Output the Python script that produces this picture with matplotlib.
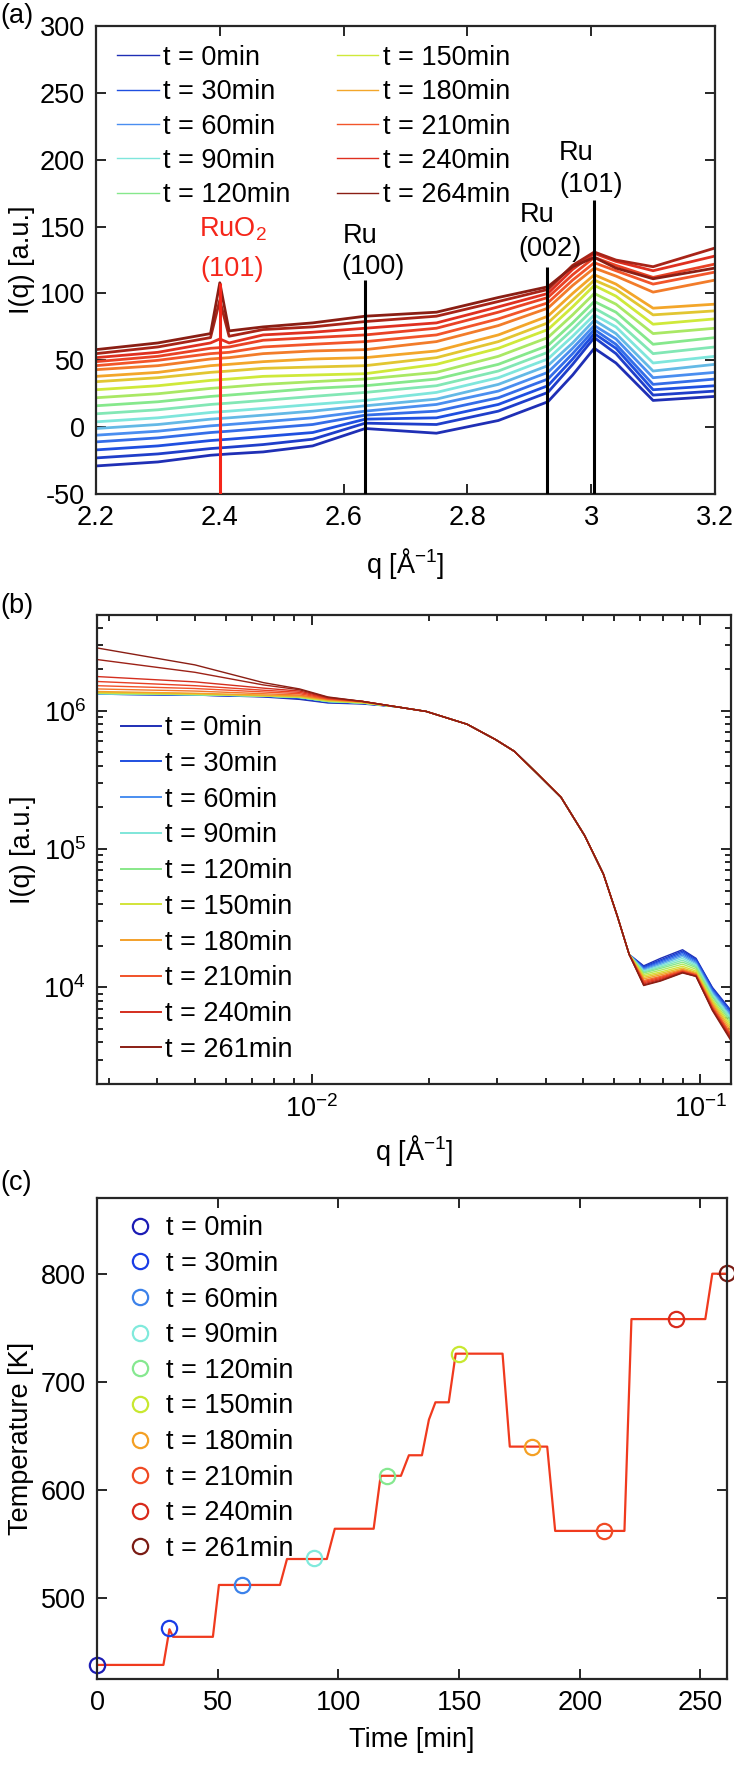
import matplotlib
matplotlib.use('Agg')
import matplotlib.pyplot as plt
from matplotlib.colors import LinearSegmentedColormap
from matplotlib.ticker import LogLocator, NullFormatter, FixedLocator

plt.rcParams['font.family'] = ['Liberation Sans', 'DejaVu Sans']
plt.rcParams['mathtext.fontset'] = 'custom'
plt.rcParams['mathtext.rm'] = 'Liberation Sans'
plt.rcParams['mathtext.it'] = 'Liberation Sans:italic'
plt.rcParams['axes.unicode_minus'] = False
plt.rcParams['font.size'] = 19.5

# ---- (a) WAXS at a few q nodes ----
q_a = [2.20, 2.30, 2.385, 2.40, 2.415, 2.47, 2.55, 2.635, 2.75, 2.85, 2.93, 2.97, 3.005, 3.04, 3.10, 3.20]
times_a = [0, 15, 30, 45, 60, 75, 90, 105, 120, 135, 150, 165, 180, 195, 210, 225, 240, 255, 264]
I_a_000 = [-29, -26, -21, -20.5, -20, -18.5, -14, -1, -4.5, 5, 19, 39, 59, 48, 20, 23]
I_a_015 = [-23, -20, -16, -15.5, -15, -13, -9, 3, 2, 12, 26, 47, 67, 55, 24, 27]
I_a_030 = [-17, -14, -10, -9.5, -9, -7, -4, 6, 7, 17, 31, 51, 70, 59, 28, 31]
I_a_045 = [-11, -8, -4, -3.5, -3, -1, 2, 9, 12, 22, 36, 55, 73, 62, 32, 36]
I_a_060 = [-6, -3, 1, 1.5, 2, 4, 7, 12, 17, 27, 41, 59, 76, 66, 37, 41]
I_a_075 = [-1, 2, 6, 6.5, 7, 9, 12, 16, 21, 32, 46, 63, 80, 70, 42, 47]
I_a_090 = [4, 7, 11, 11.5, 12, 14, 17, 20, 26, 37, 51, 68, 84, 75, 48, 53]
I_a_105 = [10, 13, 17, 17.5, 18, 20, 23, 26, 31, 42, 56, 73, 89, 80, 55, 60]
I_a_120 = [16, 19, 23, 23.5, 24, 26, 29, 31, 36, 47, 61, 78, 94, 86, 62, 67]
I_a_135 = [22, 25, 29, 29.5, 30, 32, 34, 36, 41, 53, 67, 84, 100, 92, 70, 74]
I_a_150 = [28, 31, 35, 35.5, 36, 38, 39, 40, 47, 59, 73, 90, 106, 98, 77, 81]
I_a_165 = [34, 37, 41, 41.5, 42, 44, 45, 46, 52, 64, 78, 95, 110, 103, 84, 87]
I_a_180 = [38, 41, 46, 46.5, 47, 49, 51, 52, 57, 69, 83, 100, 114, 107, 89, 92]
I_a_195 = [43, 46, 51, 51.5, 52, 55, 57, 58, 64, 76, 89, 106, 119, 113, 101, 110]
I_a_210 = [46, 50, 55, 55.5, 56, 60, 62, 64, 69, 81, 93, 110, 123, 117, 107, 116]
I_a_225 = [49, 53, 59, 59.5, 60, 65, 67, 69, 74, 86, 97, 114, 127, 121, 112, 122]
I_a_240 = [52, 56, 63, 66, 63, 69, 71, 74, 78, 90, 100, 118, 130, 124, 117, 128]
I_a_255 = [55, 60, 67, 95, 68, 73, 75, 79, 83, 94, 103, 121, 131, 125, 120, 134]
I_a_264 = [58, 63, 70, 108, 72, 75, 78, 83, 86, 97, 105, 120, 127, 119, 111, 119]
curves_a = [I_a_000, I_a_015, I_a_030, I_a_045, I_a_060, I_a_075, I_a_090, I_a_105, I_a_120, I_a_135,
            I_a_150, I_a_165, I_a_180, I_a_195, I_a_210, I_a_225, I_a_240, I_a_255, I_a_264]
legend_a = [0, 30, 60, 90, 120, 150, 180, 210, 240, 264]

# reflection markers
peak_q = [2.40, 2.635, 2.928, 3.005]
peak_top = [108, 110, 120, 170]
peak_color = ['#f5261a', 'black', 'black', 'black']

# ---- (b) SAXS ----
q_b_low = [0.0028, 0.005, 0.0075, 0.0093, 0.011, 0.0135]
q_b_mid = [0.0165, 0.0197, 0.0251, 0.0297, 0.0332, 0.0381, 0.0438, 0.0504, 0.0563, 0.0612, 0.0656]
q_b_high = [0.0715, 0.079, 0.090, 0.0975, 0.1074, 0.12]
I_b_mid = [1.07e6, 9.9e5, 8.0e5, 6.2e5, 5.1e5, 3.5e5, 2.37e5, 1.25e5, 6.6e4, 3.25e4, 1.73e4]
times_b = [0, 15, 30, 45, 60, 75, 90, 105, 120, 135, 150, 165, 180, 195, 210, 225, 240, 255, 261]
# low q part in 1e6
low_b = [[1.32, 1.30, 1.26, 1.21, 1.14, 1.12],
         [1.32, 1.30, 1.27, 1.23, 1.15, 1.13],
         [1.32, 1.30, 1.27, 1.24, 1.16, 1.13],
         [1.33, 1.31, 1.28, 1.25, 1.17, 1.14],
         [1.33, 1.31, 1.28, 1.25, 1.17, 1.14],
         [1.33, 1.31, 1.28, 1.25, 1.17, 1.14],
         [1.33, 1.31, 1.28, 1.25, 1.17, 1.14],
         [1.34, 1.31, 1.28, 1.25, 1.17, 1.14],
         [1.34, 1.31, 1.28, 1.25, 1.17, 1.14],
         [1.34, 1.32, 1.28, 1.26, 1.18, 1.14],
         [1.35, 1.32, 1.29, 1.26, 1.18, 1.15],
         [1.36, 1.33, 1.29, 1.27, 1.19, 1.15],
         [1.38, 1.34, 1.30, 1.28, 1.20, 1.16],
         [1.44, 1.39, 1.33, 1.30, 1.21, 1.16],
         [1.52, 1.45, 1.37, 1.33, 1.22, 1.17],
         [1.63, 1.52, 1.41, 1.36, 1.23, 1.17],
         [1.77, 1.62, 1.46, 1.39, 1.24, 1.17],
         [2.35, 1.90, 1.54, 1.42, 1.25, 1.17],
         [2.85, 2.15, 1.60, 1.44, 1.26, 1.17]]
# high q part in 1e4
high_b = [[1.43, 1.62, 1.87, 1.62, 1.00, 0.68],
          [1.41, 1.58, 1.83, 1.60, 0.99, 0.67],
          [1.39, 1.55, 1.79, 1.57, 0.97, 0.66],
          [1.37, 1.52, 1.75, 1.54, 0.95, 0.64],
          [1.35, 1.49, 1.71, 1.51, 0.93, 0.63],
          [1.33, 1.46, 1.67, 1.48, 0.91, 0.61],
          [1.31, 1.43, 1.62, 1.45, 0.89, 0.60],
          [1.29, 1.40, 1.57, 1.42, 0.87, 0.58],
          [1.27, 1.37, 1.52, 1.39, 0.85, 0.56],
          [1.24, 1.33, 1.47, 1.35, 0.82, 0.54],
          [1.21, 1.29, 1.42, 1.31, 0.80, 0.52],
          [1.18, 1.26, 1.38, 1.28, 0.78, 0.50],
          [1.15, 1.23, 1.35, 1.26, 0.76, 0.48],
          [1.12, 1.20, 1.33, 1.24, 0.74, 0.46],
          [1.10, 1.18, 1.31, 1.23, 0.72, 0.45],
          [1.08, 1.16, 1.30, 1.22, 0.71, 0.44],
          [1.06, 1.14, 1.29, 1.21, 0.70, 0.43],
          [1.04, 1.12, 1.28, 1.20, 0.69, 0.42],
          [1.03, 1.11, 1.27, 1.20, 0.68, 0.41]]
legend_b = [0, 30, 60, 90, 120, 150, 180, 210, 240, 261]

# ---- (c) temperature programme ----
time_c = [0, 27.5, 30, 31.5, 48, 50.5, 75.8, 78.7, 95.2, 98.5, 114.6, 117.5, 125.9, 129.2, 134.6,
          137.5, 140.2, 145.7, 148.6, 168, 171, 186.5, 189.8, 218.5, 221.4, 252, 254.9, 261]
temp_c = [438, 438, 471, 464, 464, 512, 512, 536, 536, 564, 564, 613, 613, 632, 632,
          665, 681, 681, 726, 726, 640, 640, 562, 562, 758, 758, 800, 800]
mark_t = [0, 30, 60, 90, 120, 150, 180, 210, 240, 261]
mark_T = [438, 472, 512, 537, 613, 726, 640, 562, 758, 801]
mark_col = ['#1c1cb4', '#1a3de6', '#3c82ea', '#80eadc', '#86e890', '#c8e830', '#f4a024', '#f04a24', '#d82a1c', '#7a1c14']

# colour scale (jet-like, as in the figure)
cmap = LinearSegmentedColormap.from_list('scan', [
    (0.0, '#1f2fb5'), (0.114, '#1f4fe0'), (0.227, '#4a8ef0'), (0.341, '#7fe6dc'),
    (0.455, '#86e88c'), (0.568, '#cfe93a'), (0.682, '#f3a62a'), (0.795, '#f2552a'),
    (0.909, '#e03020'), (1.0, '#8a1e14')])

axcol = '#262626'


def style_axes(ax):
    for s in ax.spines.values():
        s.set_linewidth(1.6)
        s.set_color(axcol)
    ax.tick_params(which='both', direction='in', top=True, right=True, color=axcol,
                   labelcolor='black', width=1.4)
    ax.tick_params(which='major', length=7, pad=8)
    ax.tick_params(which='minor', length=4)


fig = plt.figure(figsize=(7.34, 17.72), dpi=100)

# (a)
ax1 = fig.add_axes([0.1308, 0.7212, 0.8433, 0.2641])
for t, I in zip(times_a, curves_a):
    lab = 't = %dmin' % t if t in legend_a else None
    ax1.plot(q_a, I, color=cmap(t / 264), lw=2.0, label=lab)
ax1.vlines(peak_q, -50, peak_top, colors=peak_color, lw=2.2, zorder=5)
ax1.text(2.367, 148, 'RuO$_2$', color='#f5261a', ha='left', va='center')
ax1.text(2.368, 118, '(101)', color='#f5261a', ha='left', va='center')
ax1.text(2.598, 143, 'Ru', ha='left', va='center')
ax1.text(2.597, 120, '(100)', ha='left', va='center')
ax1.text(2.885, 159, 'Ru', ha='left', va='center')
ax1.text(2.882, 133, '(002)', ha='left', va='center')
ax1.text(2.948, 205, 'Ru', ha='left', va='center')
ax1.text(2.948, 181, '(101)', ha='left', va='center')
ax1.set_xlim(2.2, 3.2)
ax1.set_ylim(-50, 300)
ax1.set_xticks([2.2, 2.4, 2.6, 2.8, 3.0, 3.2])
ax1.set_xticklabels(['2.2', '2.4', '2.6', '2.8', '3', '3.2'])
ax1.set_yticks(range(-50, 301, 50))
style_axes(ax1)
ax1.set_ylabel('I(q) [a.u.]')
ax1.set_xlabel('q [Å$^{-1}$]')
ax1.yaxis.set_label_coords(-0.098, 0.5)
ax1.xaxis.set_label_coords(0.5, -0.112)
ax1.xaxis.label.set_va('top')
leg1 = ax1.legend(loc='upper left', bbox_to_anchor=(0.034, 0.960), ncol=2, frameon=False,
                  borderpad=0, borderaxespad=0, handlelength=1.55, handletextpad=0.15,
                  columnspacing=1.7, labelspacing=0.31)
for h in leg1.get_lines():
    h.set_linewidth(1.0)

# (b)
ax2 = fig.add_axes([0.1322, 0.3883, 0.8638, 0.2644])
q_b = q_b_low + q_b_mid + q_b_high
for t, lo, hi in zip(times_b, low_b, high_b):
    I = [v * 1e6 for v in lo] + I_b_mid + [v * 1e4 for v in hi]
    lab = 't = %dmin' % t if t in legend_b else None
    ax2.plot(q_b, I, color=cmap(t / 261), lw=1.0, label=lab)
ax2.set_xscale('log')
ax2.set_yscale('log')
ax2.set_xlim(0.0028, 0.12)
ax2.set_ylim(2e3, 4.9e6)
ax2.yaxis.set_major_locator(FixedLocator([1e4, 1e5, 1e6]))
ax2.yaxis.set_minor_locator(LogLocator(base=10, subs=range(2, 10)))
ax2.yaxis.set_minor_formatter(NullFormatter())
ax2.xaxis.set_minor_locator(LogLocator(base=10, subs=range(2, 10)))
ax2.xaxis.set_minor_formatter(NullFormatter())
style_axes(ax2)
ax2.set_ylabel('I(q) [a.u.]')
ax2.set_xlabel('q [Å$^{-1}$]')
ax2.yaxis.set_label_coords(-0.096, 0.5)
ax2.xaxis.set_label_coords(0.5, -0.104)
ax2.xaxis.label.set_va('top')
leg2 = ax2.legend(loc='upper left', bbox_to_anchor=(0.038, 0.787), frameon=False,
                  borderpad=0, borderaxespad=0, handlelength=1.48, handletextpad=0.15,
                  labelspacing=0.36)
for h in leg2.get_lines():
    h.set_linewidth(1.4)

# (c)
ax3 = fig.add_axes([0.1322, 0.0525, 0.8583, 0.2714])
ax3.plot(time_c, temp_c, color='#f03a1e', lw=1.6)
for t, T, c in zip(mark_t, mark_T, mark_col):
    ax3.plot(t, T, 'o', mfc='none', mec=c, mew=1.6, ms=11, label='t = %dmin' % t, clip_on=False)
ax3.set_xlim(0, 261)
ax3.set_ylim(425, 870)
ax3.set_xticks([0, 50, 100, 150, 200, 250])
ax3.set_yticks([500, 600, 700, 800])
style_axes(ax3)
ax3.set_xlabel('Time [min]')
ax3.set_ylabel('Temperature [K]')
ax3.yaxis.set_label_coords(-0.1, 0.5)
ax3.xaxis.set_label_coords(0.5, -0.1)
ax3.xaxis.label.set_va('top')
ax3.legend(loc='upper left', bbox_to_anchor=(0.047, 0.964), frameon=False,
           borderpad=0, borderaxespad=0, handlelength=1.0, handletextpad=0.46,
           labelspacing=0.355)

fig.text(0.0, 1 - 16 / 1772, '(a)', ha='left', va='center')
fig.text(0.0, 1 - 606 / 1772, '(b)', ha='left', va='center')
fig.text(0.0, 1 - 1183 / 1772, '(c)', ha='left', va='center')

fig.savefig('out.png', dpi=100)
